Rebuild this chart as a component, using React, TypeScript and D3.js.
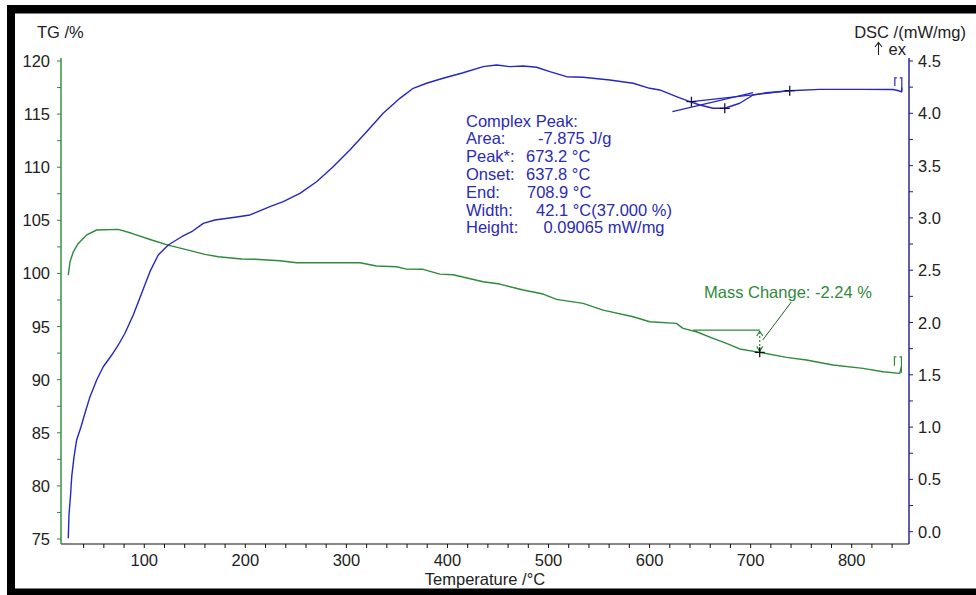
import React from "react";
import * as d3 from "d3";

// ---- DSC curve (°C, mW/mg) ----
const tempDSC = [24.8, 25.5, 27.2, 28.2, 30.5, 33.1, 37.4, 41.3, 46.3, 52.9, 59.4, 67.8, 74.3, 80.9, 89.1, 97.4, 105.6, 113.8, 123.7, 137.0, 146.9, 158.4, 169.9, 189.7, 204.6, 224.3, 237.5, 254.0, 270.5, 286.9, 303.4, 320.0, 336.4, 352.9, 366.1, 379.3, 395.7, 415.5, 435.3, 448.6, 461.7, 474.9, 488.1, 501.3, 517.8, 534.2, 560.6, 583.7, 600.2, 610.1, 626.6, 639.8, 649.7, 662.8, 674.4, 689.2, 702.4, 715.6, 738.7, 768.3, 807.9, 840.6, 845.8, 849.2, 849.6];
const dscValues = [-0.063, 0.16, 0.37, 0.526, 0.717, 0.877, 1.004, 1.132, 1.291, 1.45, 1.577, 1.689, 1.785, 1.897, 2.072, 2.279, 2.486, 2.645, 2.741, 2.82, 2.868, 2.948, 2.98, 3.006, 3.028, 3.107, 3.155, 3.235, 3.346, 3.489, 3.649, 3.824, 4.0, 4.143, 4.239, 4.287, 4.335, 4.388, 4.446, 4.462, 4.446, 4.452, 4.44, 4.398, 4.35, 4.344, 4.318, 4.287, 4.239, 4.223, 4.159, 4.111, 4.079, 4.048, 4.048, 4.096, 4.175, 4.197, 4.216, 4.229, 4.229, 4.228, 4.218, 4.204, 4.245];

// ---- TG curve (°C, %) ----
const tempTG = [24.8, 26.5, 29.8, 34.7, 43.0, 52.9, 74.3, 87.5, 107.3, 123.7, 143.5, 160.0, 173.2, 196.3, 209.5, 234.2, 250.7, 313.4, 329.9, 349.7, 359.5, 376.0, 392.5, 405.6, 435.3, 451.8, 474.9, 494.7, 507.9, 534.2, 554.0, 583.7, 600.2, 626.6, 633.1, 646.4, 662.8, 676.1, 689.2, 709.0, 735.4, 755.2, 781.5, 811.2, 831.0, 847.5, 849.2];
const tgValues = [99.85, 101.1, 102.04, 102.83, 103.62, 104.09, 104.15, 103.78, 103.15, 102.67, 102.2, 101.8, 101.57, 101.36, 101.33, 101.2, 101.01, 101.01, 100.7, 100.63, 100.41, 100.39, 99.94, 99.88, 99.22, 99.0, 98.44, 98.06, 97.56, 97.18, 96.55, 95.92, 95.45, 95.3, 94.83, 94.51, 93.89, 93.42, 92.89, 92.57, 92.1, 91.85, 91.38, 91.06, 90.74, 90.59, 91.21];

// ---- axes ----
const tgTicks = [75, 80, 85, 90, 95, 100, 105, 110, 115, 120];
const dscTicks = [0.0, 0.5, 1.0, 1.5, 2.0, 2.5, 3.0, 3.5, 4.0, 4.5];
const tempTicks = [100, 200, 300, 400, 500, 600, 700, 800];

// ---- complex peak evaluation ----
const peakLabels = ["Complex Peak:", "Area:", "Peak*:", "Onset:", "End:", "Width:", "Height:"];
const peakValues = ["", "-7.875 J/g", "673.2 °C", "637.8 °C", "708.9 °C", "42.1 °C(37.000 %)", "0.09065 mW/mg"];
const peakMarkerT = [641.4, 674.4, 738.7];
const peakMarkerV = [4.111, 4.048, 4.216];
const tangentT = [622.6, 702.4];
const tangentV = [4.015, 4.197];

// ---- mass change evaluation ----
const massChangeText = "Mass Change: -2.24 %";
const massStartT = 643.1;
const massEndT = 709.0;
const massTop = 94.67;
const massBottom = 92.57;

const BLUE = "#2626c4";
const GREEN = "#2f8a3a";
const FONT = "'Liberation Sans', Arial, sans-serif";

export default function App() {
  const x = d3.scaleLinear().domain([17.6, 856.7]).range([61, 909]);
  const yL = d3.scaleLinear().domain([75, 120]).range([539, 61]);
  const yR = d3.scaleLinear().domain([0, 4.5]).range([531.7, 61]);

  const dscLine = d3
    .line<number>()
    .x((_, i) => x(tempDSC[i]))
    .y((d) => yR(d))(dscValues) as string;
  const tgLine = d3
    .line<number>()
    .x((_, i) => x(tempTG[i]))
    .y((d) => yL(d))(tgValues) as string;

  const xMinor = d3.range(40, 850, 20);
  const lMinor = d3.range(75, 120.01, 2.5);
  const rMinor = d3.range(0, 4.501, 0.25);

  const plotTop = 58;
  const plotBottom = 544;
  const left = 61;
  const right = 909;

  const cross = (cx: number, cy: number, color: string, k: string) => (
    <path key={k} d={`M${cx - 5},${cy}H${cx + 5}M${cx},${cy - 5}V${cy + 5}`} stroke={color} strokeWidth={1.3} fill="none" />
  );

  const peakValueX = [0, 538, 526, 526, 527, 536, 543.5];
  const peakBase = 126.7;
  const peakStep = 17.77;

  const mx = x(massEndT);
  const myTop = yL(massTop);
  const myBot = yL(massBottom);

  const dscEndX = x(tempDSC[tempDSC.length - 1]);
  const dscEndY = yR(dscValues[dscValues.length - 2]);
  const tgEndX = x(tempTG[tempTG.length - 1]);
  const tgEndY = yL(tgValues[tgValues.length - 1]);

  return (
    <svg
      width={976}
      height={595}
      style={{ position: "absolute", left: 0, top: 0, display: "block", background: "#fff" }}
      fontFamily={FONT}
    >
      {/* frame */}
      <rect x={7} y={5} width={969} height={8.5} fill="#000" />
      <rect x={7} y={5} width={8} height={590} fill="#000" />
      <rect x={7} y={588.5} width={969} height={6.5} fill="#000" />

      {/* axes lines */}
      <line x1={left} x2={right} y1={plotBottom} y2={plotBottom} stroke="#111" strokeWidth={1.2} />
      <line x1={left} x2={left} y1={plotTop} y2={plotBottom} stroke={GREEN} strokeWidth={1.4} />
      <line x1={right} x2={right} y1={plotTop} y2={plotBottom} stroke="#1c1c90" strokeWidth={1.4} />

      {/* x ticks */}
      {xMinor.map((t) => (
        <line key={"xm" + t} x1={x(t)} x2={x(t)} y1={plotBottom} y2={plotBottom + 4} stroke="#111" strokeWidth={1} />
      ))}
      {tempTicks.map((t) => (
        <text key={"xt" + t} x={x(t)} y={565.5} textAnchor="middle" fontSize={16.5} fill="#222">
          {t}
        </text>
      ))}
      <text x={485} y={584.5} textAnchor="middle" fontSize={16.5} fill="#222">
        Temperature /°C
      </text>

      {/* left ticks */}
      {lMinor.map((v) => (
        <line key={"lm" + v} x1={left - 4} x2={left} y1={yL(v)} y2={yL(v)} stroke={GREEN} strokeWidth={1} />
      ))}
      {tgTicks.map((v) => (
        <text key={"lt" + v} x={50} y={yL(v) + 6} textAnchor="end" fontSize={16.5} fill="#222">
          {v}
        </text>
      ))}
      <text x={37} y={38} fontSize={16.5} fill="#222">
        TG /%
      </text>

      {/* right ticks */}
      {rMinor.map((v) => (
        <line key={"rm" + v} x1={right} x2={right + 4} y1={yR(v)} y2={yR(v)} stroke="#1c1c90" strokeWidth={1} />
      ))}
      {dscTicks.map((v) => (
        <text key={"rt" + v} x={918} y={yR(v) + 6} fontSize={16.5} fill="#222">
          {v.toFixed(1)}
        </text>
      ))}
      <text x={966} y={38} textAnchor="end" fontSize={16.5} fill="#222">
        DSC /(mW/mg)
      </text>
      <path d="M878.5,55V43M875,47L878.5,42.5L882,47" fill="none" stroke="#222" strokeWidth={1.1} />
      <text x={888.5} y={55} fontSize={16.5} fill="#222">
        ex
      </text>

      {/* curves */}
      <path d={tgLine} fill="none" stroke={GREEN} strokeWidth={1.4} strokeLinejoin="round" />
      <path d={dscLine} fill="none" stroke={BLUE} strokeWidth={1.4} strokeLinejoin="round" />

      {/* end brackets */}
      <path d={`M${dscEndX - 7},${dscEndY - 6}V${dscEndY - 14}H${dscEndX - 5}M${dscEndX - 2},${dscEndY - 14}H${dscEndX}V${dscEndY}`} fill="none" stroke={BLUE} strokeWidth={1.2} />
      <path d={`M${tgEndX - 7},${tgEndY - 1}V${tgEndY - 10}H${tgEndX - 5}M${tgEndX - 2},${tgEndY - 10}H${tgEndX}V${tgEndY + 6}`} fill="none" stroke={GREEN} strokeWidth={1.2} />

      {/* complex peak construction */}
      <line x1={x(peakMarkerT[0])} y1={yR(peakMarkerV[0])} x2={x(peakMarkerT[2])} y2={yR(peakMarkerV[2])} stroke={BLUE} strokeWidth={1.3} />
      <line x1={x(tangentT[0])} y1={yR(tangentV[0])} x2={x(tangentT[1])} y2={yR(tangentV[1])} stroke={BLUE} strokeWidth={1.3} />
      {peakMarkerT.map((t, i) => cross(x(t), yR(peakMarkerV[i]), "#15154a", "pk" + i))}

      {peakLabels.map((l, i) => (
        <text key={"pl" + i} x={466} y={peakBase + i * peakStep} fontSize={16.5} fill="#2b2bb4">
          {l}
        </text>
      ))}
      {peakValues.map((v, i) =>
        v ? (
          <text key={"pv" + i} x={peakValueX[i]} y={peakBase + i * peakStep} fontSize={16.5} fill="#2b2bb4">
            {v}
          </text>
        ) : null
      )}

      {/* mass change construction */}
      <line x1={x(massStartT)} y1={myTop} x2={mx} y2={myTop} stroke={GREEN} strokeWidth={1.3} />
      <line x1={mx} y1={myTop + 2} x2={mx} y2={myBot - 2} stroke={GREEN} strokeWidth={1.2} strokeDasharray="2,2" />
      <path d={`M${mx - 3},${myTop + 6}L${mx},${myTop + 1}L${mx + 3},${myTop + 6}M${mx - 3},${myBot - 6}L${mx},${myBot - 1}L${mx + 3},${myBot - 6}`} fill="none" stroke={GREEN} strokeWidth={1.2} />
      {cross(mx, myBot, "#111", "mc")}
      <line x1={mx + 3} y1={yL(93.73)} x2={x(740.4)} y2={yL(97.33)} stroke="#2a5a2a" strokeWidth={1} />
      <text x={704} y={298} fontSize={16.5} fill={GREEN}>
        {massChangeText}
      </text>
    </svg>
  );
}
